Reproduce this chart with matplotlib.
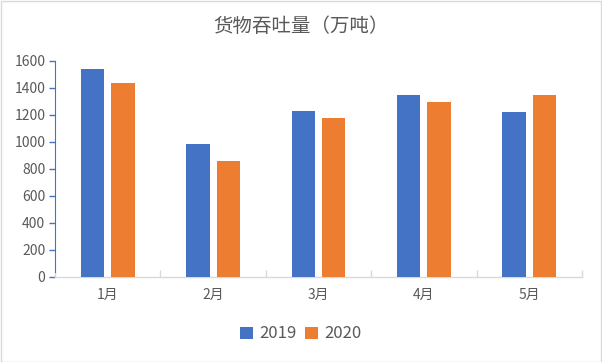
import matplotlib
matplotlib.use("Agg")
import matplotlib.pyplot as plt
import numpy as np
from matplotlib.patches import Rectangle

plt.rcParams['font.family'] = ['Noto Sans CJK SC', 'DejaVu Sans']

categories = ['1月', '2月', '3月', '4月', '5月']
series_names = ['2019', '2020']
values_2019 = [1536, 983, 1227, 1346, 1220]
values_2020 = [1435, 857, 1175, 1294, 1346]
yticks = [0, 200, 400, 600, 800, 1000, 1200, 1400, 1600]
title = '货物吞吐量（万吨）'

blue = '#4472C4'
orange = '#ED7D31'
txt = '#595959'
gridc = '#D9D9D9'

fig = plt.figure(figsize=(6.02, 3.62), dpi=100)
fig.patches.append(Rectangle((0.5/602, 0.5/362), 1 - 1.5/602, 1 - 1.5/362,
                             transform=fig.transFigure, fill=False,
                             edgecolor='#D9D9D9', linewidth=1))
ax = fig.add_axes([55/602, 85/362, 527/602, 216.3/362])

x = np.arange(len(categories))
w = 0.222
off = 0.145
ax.bar(x - off, values_2019, w, color=blue, label=series_names[0], zorder=3)
ax.bar(x + off, values_2020, w, color=orange, label=series_names[1], zorder=3)

ax.set_xlim(-0.5, len(categories) - 0.5)
ax.set_ylim(0, 1600)
ax.set_yticks(yticks)
ax.set_yticklabels([str(v) for v in yticks], fontsize=10, color=txt)
ax.set_xticks(x)
ax.set_xticklabels(categories, fontsize=10, color=txt)
ax.tick_params(axis='x', length=0, pad=8)
ax.tick_params(axis='y', length=4, color=blue, width=1, pad=3)
ax.set_xticks(np.arange(len(categories) + 1) - 0.5, minor=True)
ax.tick_params(axis='x', which='minor', direction='in', length=5, color=gridc, width=1)

for s in ['top', 'right']:
    ax.spines[s].set_visible(False)
ax.spines['left'].set_color(blue)
ax.spines['left'].set_bounds(40, 1600)
ax.spines['bottom'].set_color(gridc)
ax.spines['bottom'].set_linewidth(1)

fig.text(0.5, 1 - 27/362, title, ha='center', va='center', fontsize=14, color=txt)

fig.legend(loc='center', bbox_to_anchor=(0.5, 1 - 334/362), ncol=2, frameon=False,
           fontsize=12, handlelength=0.75, handleheight=0.75, handletextpad=0.4,
           columnspacing=0.5, labelcolor=txt)

fig.savefig('out.png', dpi=100)
